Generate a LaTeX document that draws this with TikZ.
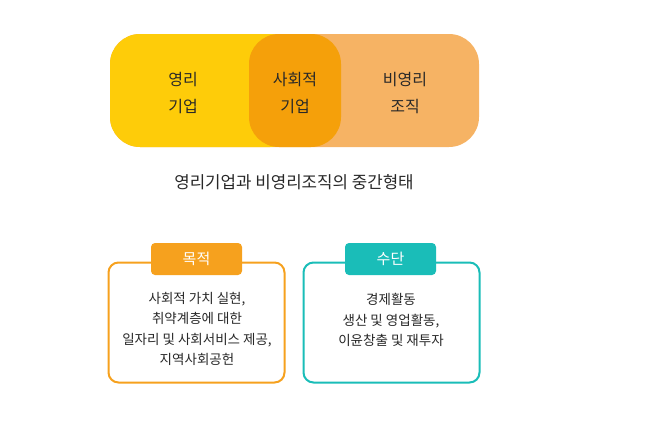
\documentclass[tikz,border=0pt]{standalone}
\usepackage{fontspec}
\setmainfont{Noto Sans CJK KR}
\usetikzlibrary{positioning}
\definecolor{forProfit}  {RGB}{254, 204,   9}
\definecolor{socialOrg}  {RGB}{245, 160,  10}
\definecolor{nonProfit}  {RGB}{246, 179, 100}
\definecolor{goalOrange} {RGB}{246, 161,  30}
\definecolor{meansTeal}  {RGB}{ 26, 189, 184}
\definecolor{txtGray}    {RGB}{ 40,  40,  40}
\tikzset{
  bar/.style   = {rectangle, rounded corners=30pt, fill=#1, draw=none,
                  minimum height=113pt, inner sep=0pt},
  lbl/.style   = {font=\fontsize{16}{27}\selectfont, text=txtGray, align=center},
  pane/.style  = {rectangle, rounded corners=10pt, draw=#1, line width=2pt,
                  fill=white, minimum width=176pt, minimum height=120pt},
  tab/.style   = {rectangle, rounded corners=4pt, fill=#1, text=white,
                  minimum width=91pt, minimum height=32pt, inner sep=0pt,
                  font=\fontsize{15}{18}\selectfont},
  body/.style  = {font=\fontsize{13.5}{20.5}\selectfont, text=txtGray, align=center},
}

\begin{document}
\begin{tikzpicture}[x=1pt, y=-1pt]
\useasboundingbox (0,0) rectangle (652,445);

% ---- Top bar: three organisation types --------------------------------------
\node[bar=nonProfit, minimum width=369pt] (npBar)  at (294.5,90.5) {};
\node[bar=forProfit, minimum width=190pt] (fpBar)  at (205,90.5) {};
\node[bar=socialOrg, minimum width=92pt]  (seBar)  at (295,90.5) {};

\node[lbl] (fpText) at (183,93) {영리\\기업};
\node[lbl] (seText) at (295,93) {사회적\\기업};
\node[lbl] (npText) at (405,93) {비영리\\조직};

% ---- Caption ----------------------------------------------------------------
\node[lbl, font=\fontsize{16.8}{20}\selectfont] (caption) at (294,182)
  {영리기업과 비영리조직의 중간형태};

% ---- Goal / means panes -----------------------------------------------------
\node[pane=goalOrange] (goalPane)  at (196.5,322.5) {};
\node[pane=meansTeal]  (meansPane) at (391.5,322.5) {};

\node[tab=goalOrange] (goalTab)  at (196.5,259) {목적};
\node[tab=meansTeal]  (meansTab) at (390.5,259) {수단};

\node[body] (goalText) at (197,329)
  {사회적 가치 실현,\\취약계층에 대한\\일자리 및 사회서비스 제공,\\지역사회공헌};
\node[body] (meansText) at (391,320)
  {경제활동\\생산 및 영업활동,\\이윤창출 및 재투자};

\end{tikzpicture}
\end{document}
